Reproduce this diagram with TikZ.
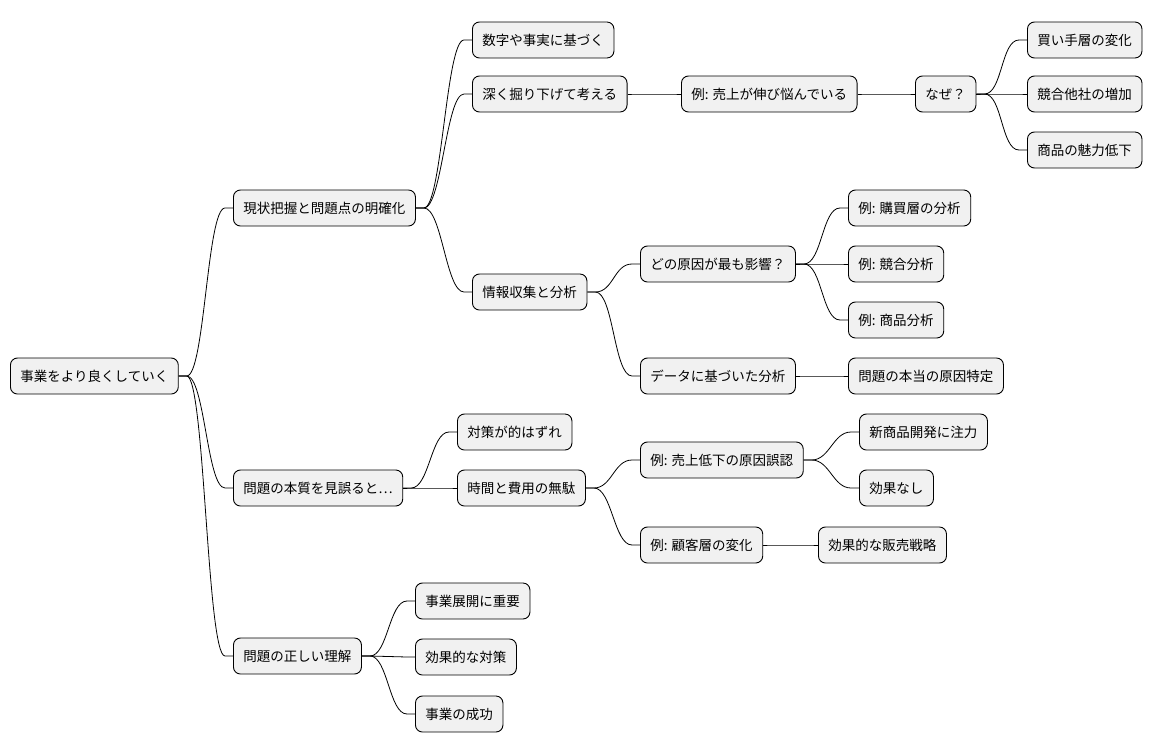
\documentclass[tikz,border=0pt]{standalone}
\usepackage{fontspec}
\setmainfont{Noto Sans CJK JP}
\begin{document}
\begin{tikzpicture}[x=1pt,y=-1pt,
  box/.style={draw=black,fill={rgb,255:red,241;green,241;blue,241},rounded corners=7pt,line width=0.9pt,
    minimum height=36pt,inner xsep=10pt,anchor=west,font=\fontsize{13.5}{16}\selectfont},
  con/.style={line width=0.8pt}]
\useasboundingbox (0,0) rectangle (1156,752);
\node[box] (r) at (10,376) {事業をより良くしていく};
\node[box] (a) at (233,208) {現状把握と問題点の明確化};
\node[box] (a1) at (472,40) {数字や事実に基づく};
\node[box] (a2) at (472,94) {深く掘り下げて考える};
\node[box] (a21) at (681,94) {例: 売上が伸び悩んでいる};
\node[box] (a211) at (915,94) {なぜ？};
\node[box] (w1) at (1027,40) {買い手層の変化};
\node[box] (w2) at (1027,94) {競合他社の増加};
\node[box] (w3) at (1027,150) {商品の魅力低下};
\node[box] (a3) at (472,292) {情報収集と分析};
\node[box] (a31) at (640,264) {どの原因が最も影響？};
\node[box] (e1) at (848,208) {例: 購買層の分析};
\node[box] (e2) at (848,264) {例: 競合分析};
\node[box] (e3) at (848,320) {例: 商品分析};
\node[box] (a32) at (640,376) {データに基づいた分析};
\node[box] (a321) at (848,376) {問題の本当の原因特定};
\node[box] (b) at (233,488) {問題の本質を見誤ると…};
\node[box] (b1) at (457,432) {対策が的はずれ};
\node[box] (b2) at (457,488) {時間と費用の無駄};
\node[box] (b21) at (640,460) {例: 売上低下の原因誤認};
\node[box] (f1) at (859,432) {新商品開発に注力};
\node[box] (f2) at (859,488) {効果なし};
\node[box] (b22) at (640,545) {例: 顧客層の変化};
\node[box] (b221) at (818,545) {効果的な販売戦略};
\node[box] (c) at (233,656) {問題の正しい理解};
\node[box] (c1) at (415,601) {事業展開に重要};
\node[box] (c2) at (415,657) {効果的な対策};
\node[box] (c3) at (415,714) {事業の成功};
\foreach \p/\c in {r/a,r/b,r/c,a/a1,a/a2,a/a3,a2/a21,a21/a211,a211/w1,a211/w2,a211/w3,a3/a31,a3/a32,a31/e1,a31/e2,a31/e3,a32/a321,b/b1,b/b2,b2/b21,b2/b22,b21/f1,b21/f2,b22/b221,c/c1,c/c2,c/c3}
  \draw[con] (\p.east) -- ++(8,0) .. controls +(18,0) and +(-18,0) .. ([xshift=-8pt]\c.west) -- (\c.west);
\end{tikzpicture}
\end{document}
